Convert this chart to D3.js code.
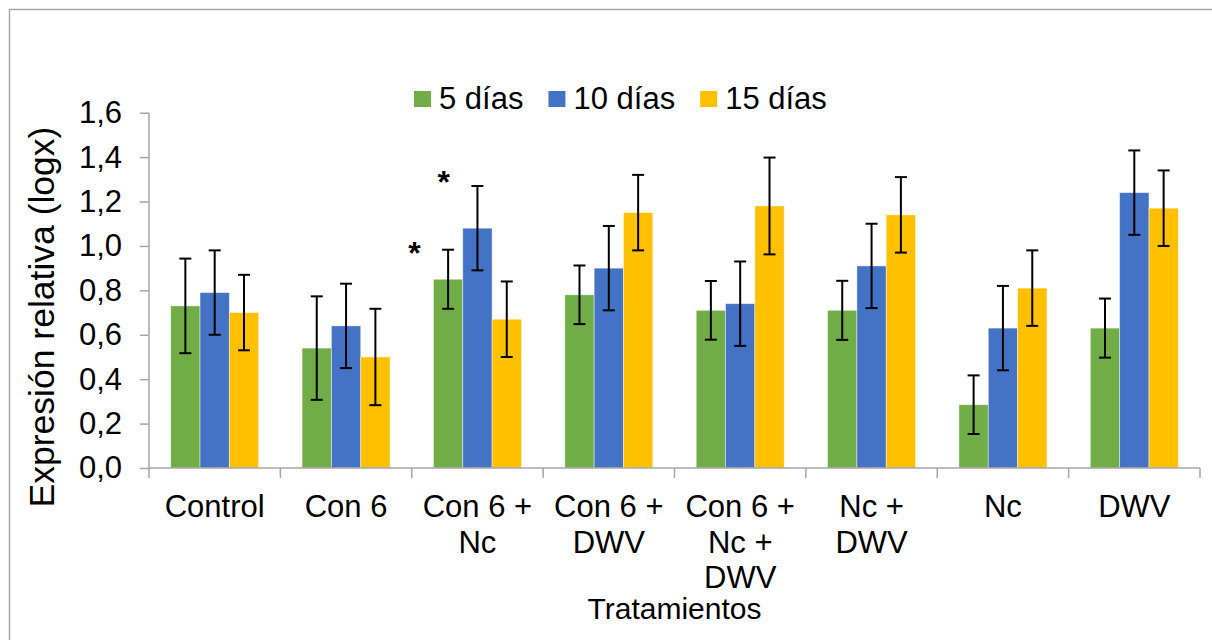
<!DOCTYPE html>
<html lang="es">
<head>
    <meta charset="UTF-8">
    <title>Expresión relativa</title>
    <script src="https://d3js.org/d3.v7.min.js"></script>
    <style>
        body {
            margin: 0;
            background: #fff;
        }
        text {
            font-family: "Liberation Sans", Arial, sans-serif;
            fill: #000;
        }
        .axis path, .axis line, .frame-line {
            stroke: #a6a6a6;
            stroke-width: 1.5;
            fill: none;
        }
        .axis text {
            font-size: 31px;
        }
        .err {
            stroke: #000;
            stroke-width: 2;
        }
        .cat-label {
            font-size: 31px;
            text-anchor: middle;
        }
    </style>
</head>
<body>
<script>
    const width = 1212;
    const height = 640;

    const categories = ["Control", "Con 6", "Con 6 + Nc", "Con 6 + DWV", "Con 6 + Nc + DWV", "Nc + DWV", "Nc", "DWV"];
    const seriesNames = ["5 días", "10 días", "15 días"];
    const colors = ["#70ad47", "#4472c4", "#ffc000"];

    const dias5 = [0.73, 0.54, 0.85, 0.78, 0.71, 0.71, 0.285, 0.63];
    const err5 = [0.213, 0.233, 0.133, 0.132, 0.132, 0.133, 0.132, 0.133];
    const dias10 = [0.79, 0.64, 1.08, 0.90, 0.74, 0.91, 0.63, 1.24];
    const err10 = [0.19, 0.19, 0.19, 0.19, 0.19, 0.19, 0.19, 0.19];
    const dias15 = [0.70, 0.50, 0.67, 1.15, 1.18, 1.14, 0.81, 1.17];
    const err15 = [0.17, 0.217, 0.17, 0.17, 0.218, 0.17, 0.17, 0.17];

    const yTicks = [0, 0.2, 0.4, 0.6, 0.8, 1.0, 1.2, 1.4, 1.6];

    // asteriscos de significancia
    const marks = [
        {cat: "Con 6 + Nc", serie: 0, value: 1.0},
        {cat: "Con 6 + Nc", serie: 1, value: 1.32}
    ];

    const values = [dias5, dias10, dias15];
    const errors = [err5, err10, err15];

    const data = [];
    categories.forEach((c, i) => {
        seriesNames.forEach((s, j) => {
            data.push({cat: c, serie: j, value: values[j][i], err: errors[j][i]});
        });
    });

    const svg = d3.select("body").append("svg")
        .attr("width", width)
        .attr("height", height);

    // marco del gráfico
    svg.append("path")
        .attr("class", "frame-line")
        .attr("d", `M9.5,${height + 5}V9.5H${width + 5}`);

    const x0 = d3.scaleBand()
        .domain(categories)
        .range([149, 1200]);

    const x1 = d3.scaleBand()
        .domain(d3.range(seriesNames.length))
        .range([0, x0.bandwidth()])
        .paddingInner(0)
        .paddingOuter(0.74);

    const y = d3.scaleLinear()
        .domain([0, 1.6])
        .range([468, 112.7]);

    // eje y
    const yAxis = d3.axisLeft(y)
        .tickValues(yTicks)
        .tickSize(9)
        .tickPadding(18)
        .tickFormat(d => d3.format(".1f")(d).replace(".", ","));

    svg.append("g")
        .attr("class", "axis")
        .attr("transform", "translate(149,0)")
        .call(yAxis)
        .call(g => g.select(".domain").attr("d", `M0,${y(1.6)}V${y(0)}`));

    // barras
    svg.append("g").selectAll("rect")
        .data(data)
        .enter()
        .append("rect")
        .attr("x", d => x0(d.cat) + x1(d.serie))
        .attr("y", d => y(d.value))
        .attr("width", x1.bandwidth())
        .attr("height", d => y(0) - y(d.value))
        .attr("fill", d => colors[d.serie])
        .attr("stroke", "#fff")
        .attr("stroke-opacity", 0.55)
        .attr("stroke-width", 0.8);

    // barras de error
    const errG = svg.append("g").selectAll("g")
        .data(data)
        .enter()
        .append("g")
        .attr("transform", d => `translate(${x0(d.cat) + x1(d.serie) + x1.bandwidth() / 2},0)`);

    errG.append("line").attr("class", "err")
        .attr("y1", d => y(d.value + d.err))
        .attr("y2", d => y(d.value - d.err));
    errG.append("line").attr("class", "err")
        .attr("x1", -6).attr("x2", 6)
        .attr("y1", d => y(d.value + d.err))
        .attr("y2", d => y(d.value + d.err));
    errG.append("line").attr("class", "err")
        .attr("x1", -6).attr("x2", 6)
        .attr("y1", d => y(d.value - d.err))
        .attr("y2", d => y(d.value - d.err));

    // eje x
    const xAxis = svg.append("g").attr("class", "axis");
    xAxis.append("path")
        .attr("d", `M${x0.range()[0]},${y(0)}H${x0.range()[1]}`);
    xAxis.selectAll("line.tick")
        .data(categories.map(c => x0(c)).concat([x0.range()[1]]))
        .enter()
        .append("line")
        .attr("x1", d => d).attr("x2", d => d)
        .attr("y1", y(0)).attr("y2", y(0) + 10);

    const labels = svg.append("g").selectAll("text")
        .data(categories)
        .enter()
        .append("text")
        .attr("class", "cat-label")
        .attr("x", d => x0(d) + x0.bandwidth() / 2)
        .attr("y", 517);

    labels.selectAll("tspan")
        .data(d => d.split(/(?<=\+)\s/).map(t => ({t: t, x: x0(d) + x0.bandwidth() / 2})))
        .enter()
        .append("tspan")
        .attr("x", d => d.x)
        .attr("dy", (d, i) => i === 0 ? 0 : 35.5)
        .text(d => d.t);

    // asteriscos
    svg.append("g").selectAll("text")
        .data(marks)
        .enter()
        .append("text")
        .attr("x", d => x0(d.cat) + x1(d.serie) - 19)
        .attr("y", d => y(d.value) + 18)
        .attr("text-anchor", "middle")
        .attr("font-size", 32)
        .attr("font-weight", "bold")
        .text("*");

    // títulos de ejes
    svg.append("text")
        .attr("x", (x0.range()[0] + x0.range()[1]) / 2)
        .attr("y", 619)
        .attr("text-anchor", "middle")
        .attr("font-size", 30)
        .text("Tratamientos");

    svg.append("text")
        .attr("transform", "translate(54,317) rotate(-90)")
        .attr("text-anchor", "middle")
        .attr("font-size", 35.5)
        .text("Expresión relativa (logx)");

    // leyenda
    const legend = svg.append("g");
    let lx = 414;
    seriesNames.forEach((s, i) => {
        legend.append("rect")
            .attr("x", lx).attr("y", 91)
            .attr("width", 17).attr("height", 16)
            .attr("fill", colors[i]);
        const t = legend.append("text")
            .attr("x", lx + 25).attr("y", 109)
            .attr("font-size", 31)
            .text(s);
        lx += 25 + t.node().getComputedTextLength() + 25;
    });
</script>
</body>
</html>
